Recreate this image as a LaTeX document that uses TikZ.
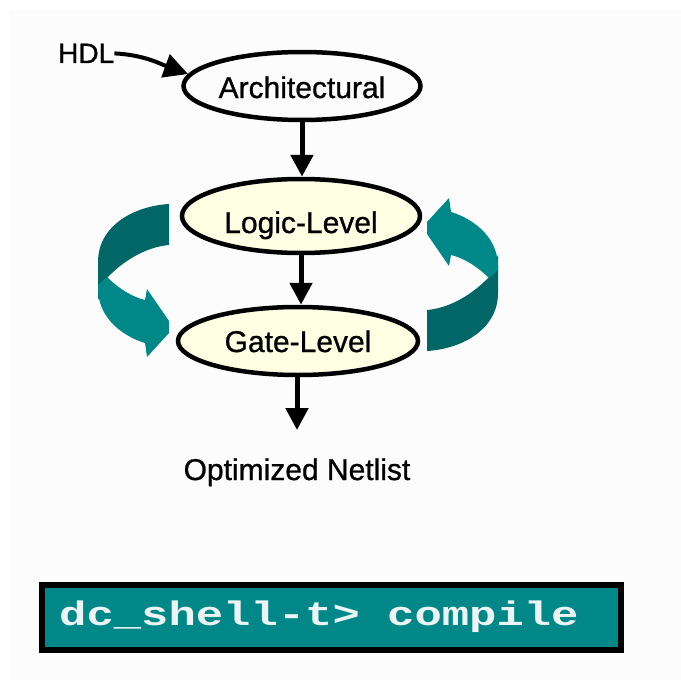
\documentclass[tikz,border=0pt]{standalone}
\usepackage{fontspec}
\setmainfont{Liberation Sans}
\newfontfamily\lblfont[FakeBold=0.8]{Liberation Sans}
\newfontfamily\termfont{Liberation Mono}
\usepackage{graphicx}
\usetikzlibrary{shapes.geometric,arrows.meta}
\definecolor{tealL}{RGB}{0,136,136}
\definecolor{tealD}{RGB}{0,102,102}
\definecolor{cream}{RGB}{255,255,228}
\definecolor{bggray}{RGB}{252,252,252}
\definecolor{termtext}{RGB}{236,244,244}
\tikzset{
  swirl/.pic={
    \fill[tealD] (169,204) .. controls (135,206) and (98,225) .. (98,262)
      -- (98,300) -- (107,278) .. controls (122,262) and (145,247) .. (169,245) -- cycle;
    \fill[tealL] (98,285) -- (107,277) .. controls (118,288) and (132,297) .. (145,300)
      -- (147,289) -- (169,321) -- (169,333) -- (147,357) -- (145,343)
      .. controls (125,337) and (99,320) .. (98,290) -- cycle;
  }
}
\begin{document}
\begin{tikzpicture}[x=1pt,y=-1pt,
  lbl/.style={font=\lblfont\fontsize{30}{34}\selectfont, inner sep=0pt},
  oval/.style={ellipse, draw=black, line width=4.5pt, inner sep=0pt,
    font=\lblfont\fontsize{30}{34}\selectfont, text depth=0pt},
  flow/.style={line width=5pt, -{Triangle[width=22pt,length=22pt]}},
  feed/.style={line width=4pt, -{Triangle[width=24pt,length=24pt]}}
]
\useasboundingbox (0,0) rectangle (681,680);
\fill[bggray] (10,10) rectangle (681,680);

% curved teal arrows
\pic at (0,0) {swirl};
\pic[rotate=180] at (596,555) {swirl};

% nodes
\node[lbl, anchor=base west, font=\lblfont\fontsize{28}{32}\selectfont] (hdl) at (58,63) {HDL};
\node[oval, minimum width=237pt, minimum height=68pt, text height=24pt] (arch) at (302,86) {Architectural};
\node[oval, fill=cream, minimum width=238pt, minimum height=74pt, text height=34pt] (logic) at (301,216) {Logic-Level};
\node[oval, fill=cream, minimum width=240pt, minimum height=68pt, text height=22pt] (gate) at (298,341) {Gate-Level};
\node[lbl, anchor=base] (net) at (297,480) {Optimized Netlist};
\coordinate (netout) at (297,430);

% connectors
\draw[feed] (hdl.east) to[out=-3, in=160] (arch.174);
\draw[flow] (arch.south) -- (arch.south |- logic.north);
\draw[flow] (logic.south) -- (logic.south |- gate.north);
\draw[flow] (gate.south -| netout) -- (netout);

% terminal box
\node[draw=black, line width=6pt, fill=tealL, minimum width=579pt, minimum height=65pt, inner sep=0pt] (term) at (331.5,617.5) {};
\node[anchor=base west, inner sep=0pt, text=termtext] (cmd) at (59,625)
  {\scalebox{1.34}[1]{\termfont\bfseries\fontsize{34}{38}\selectfont dc\_shell-t> compile}};
\end{tikzpicture}
\end{document}
